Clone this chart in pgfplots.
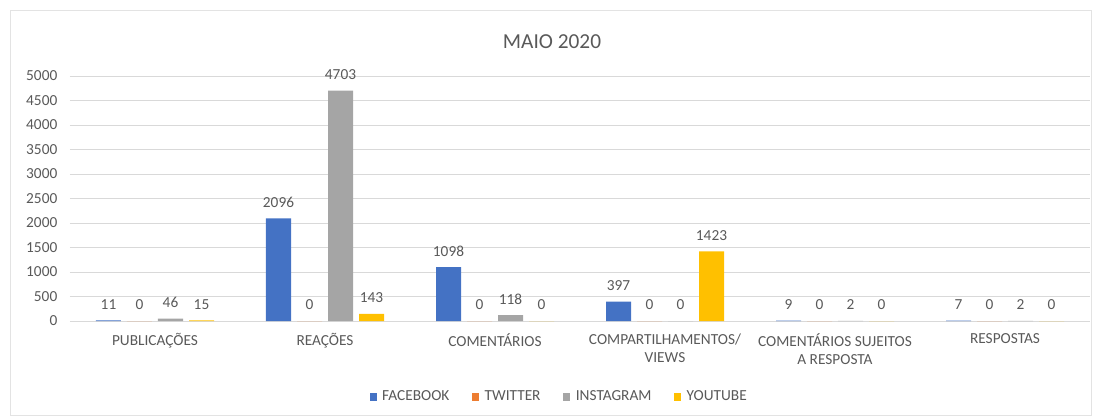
\documentclass[border=0pt]{standalone}
\usepackage{pgfplots}
\pgfplotsset{compat=1.18}
\usepackage{pgfplotstable}
\usepackage{fontspec}
\setmainfont{Carlito}
\definecolor{cfb}{HTML}{4472C4}
\definecolor{ctw}{HTML}{ED7D31}
\definecolor{cig}{HTML}{A5A5A5}
\definecolor{cyt}{HTML}{FFC000}
\definecolor{txt}{HTML}{595959}
\definecolor{gridc}{HTML}{D9D9D9}
\definecolor{framec}{HTML}{E3E3E3}
\pgfplotstableread{
x fb tw ig yt
0 11 0 46 15
1 2096 0 4703 143
2 1098 0 118 0
3 397 0 0 1423
4 9 0 2 0
5 7 0 2 0
}\data
\begin{document}
\begin{tikzpicture}
\path (0pt,0pt) rectangle (825.75pt,314.25pt);
\draw[color=framec, line width=0.75pt] (7.5pt,3pt) rectangle (818.25pt,306.75pt);
\node[text=txt, font=\fontsize{16}{19}\selectfont] at (414pt,282.75pt) {MAIO 2020};
\begin{axis}[
  at={(52.5pt,73.5pt)}, anchor=south west,
  scale only axis, width=765pt, height=183.75pt,
  xmin=-0.5, xmax=5.5, ymin=0, ymax=5000,
  ytick={0,500,...,5000},
  scaled y ticks=false,
  /pgf/number format/1000 sep={},
  /pgf/number format/assume math mode=true,
  axis line style={draw=none},
  ymajorgrids, grid style={color=gridc, line width=0.75pt},
  major tick length=0pt,
  xtick=data,
  xticklabels={PUBLICAÇÕES, REAÇÕES, COMENTÁRIOS, {COMPARTILHAMENTOS/\\VIEWS}, {COMENTÁRIOS SUJEITOS\\A RESPOSTA}, RESPOSTAS},
  xticklabel style={align=center, text=txt, font=\fontsize{11.5}{13.5}\selectfont, yshift=-6pt},
  yticklabel style={text=txt, font=\fontsize{11.5}{13.5}\selectfont, xshift=-6pt},
  ybar=4.5pt, bar width=18.75pt,
  nodes near coords,
  every node near coord/.append style={text=txt, font=\fontsize{11.5}{13.5}\selectfont, anchor=center, yshift=12pt},
  legend columns=4,
  legend style={draw=none, at={(0.48,-0.31)}, anchor=center, font=\fontsize{11.5}{13.5}\selectfont, text=txt,
    /tikz/every odd column/.append style={column sep=2pt},
    /tikz/every even column/.append style={column sep=15pt}},
  legend image code/.code={\fill[#1] (0pt,-2.7pt) rectangle (5.4pt,2.7pt);},
]
\addplot[fill=cfb, draw=none] table[x=x,y=fb]{\data};
\addplot[fill=ctw, draw=none] table[x=x,y=tw]{\data};
\addplot[fill=cig, draw=none] table[x=x,y=ig]{\data};
\addplot[fill=cyt, draw=none] table[x=x,y=yt]{\data};
\legend{FACEBOOK, TWITTER, INSTAGRAM, YOUTUBE}
\end{axis}
\end{tikzpicture}
\end{document}
